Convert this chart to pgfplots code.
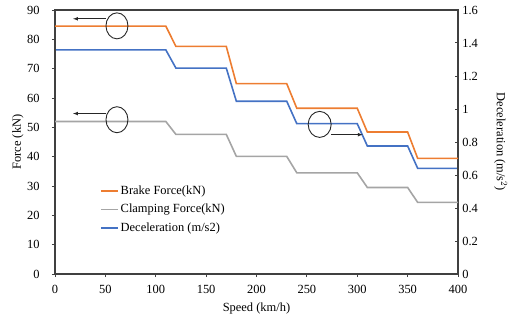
\documentclass[border=0pt]{standalone}
\usepackage{fontspec}
\setmainfont{Liberation Serif}
\usepackage{pgfplots}
\pgfplotsset{compat=1.18}
\definecolor{cOrange}{HTML}{ED7D31}
\definecolor{cGray}{HTML}{A5A5A5}
\definecolor{cBlue}{HTML}{4472C4}
\definecolor{cFrame}{HTML}{404040}
\pgfplotsset{
  common/.style={
    width=403bp, height=264bp, scale only axis,
    at={(0,0)}, anchor=south west,
    xmin=0, xmax=400,
    /pgf/number format/assume math mode=true,
    axis line style={draw=cFrame, line width=1.3bp},
    major tick style={draw=cFrame, line width=1bp},
    major tick length=3bp,
  }
}
\begin{document}
\fontsize{12.5}{14}\selectfont
\begin{tikzpicture}
\begin{axis}[common,
  ymin=0, ymax=1.6,
  ytick={0,0.2,...,1.6},
  axis x line=none, axis y line*=right,
  tick align=inside,
  ylabel={Deceleration (m/s$^2$)},
  ylabel style={at={(axis description cs:1.106,0.5)}, anchor=center, rotate=180},
]
\addplot[cBlue, line width=1.6bp] coordinates {
(0,1.358)(110,1.358)(120,1.248)(170,1.248)(180,1.047)(230,1.047)(240,0.911)(300,0.911)(310,0.776)(350,0.776)(360,0.64)(400,0.64)};
\end{axis}
\begin{axis}[common,
  ymin=0, ymax=90,
  xtick={0,50,...,400}, ytick={0,10,...,90},
  xtick pos=bottom, ytick pos=left,
  tick align=outside,
  xticklabel style={yshift=-4bp},
  yticklabel style={xshift=-8bp},
  xlabel={Speed (km/h)}, ylabel={Force (kN)},
  xlabel style={at={(axis description cs:0.5,-0.132)}, anchor=center},
  ylabel style={at={(axis description cs:-0.092,0.5)}, anchor=center},
  clip=false,
  legend style={at={(axis description cs:0.104,0.35)}, anchor=north west,
    draw=none, fill=none, row sep=4bp},
  legend cell align=left,
]
\addplot[cOrange, line width=1.6bp] coordinates {
(0,84.5)(110,84.5)(120,77.6)(170,77.6)(180,64.9)(230,64.9)(240,56.5)(300,56.5)(310,48.4)(350,48.4)(360,39.4)(400,39.4)};
\addplot[cGray, line width=1.6bp] coordinates {
(0,52)(110,52)(120,47.6)(170,47.6)(180,40.1)(230,40.1)(240,34.5)(300,34.5)(310,29.5)(350,29.5)(360,24.4)(400,24.4)};
\addlegendimage{cBlue, line width=1.6bp}
\legend{Brake Force(kN), Clamping Force(kN), Deceleration (m/s2)}
% annotations
\draw[black!85, line width=0.9bp] (axis cs:61.5,84.6) ellipse [x radius=11bp, y radius=13bp];
\draw[black!85, line width=0.9bp] (axis cs:61.5,52.6) ellipse [x radius=11bp, y radius=13bp];
\draw[black!85, line width=0.9bp] (axis cs:262.7,51) ellipse [x radius=11.5bp, y radius=13bp];
\draw[black!85, line width=0.7bp, -latex] (axis cs:50.6,87) -- (axis cs:17.9,87);
\draw[black!85, line width=0.7bp, -latex] (axis cs:50.6,54.7) -- (axis cs:17.9,54.7);
\draw[black!85, line width=0.7bp, -latex] (axis cs:274,47.5) -- (axis cs:305.4,47.5);
\end{axis}
\pgfresetboundingbox
\path[use as bounding box] (-55bp,-48bp) rectangle (454bp,274bp);
\end{tikzpicture}
\end{document}
